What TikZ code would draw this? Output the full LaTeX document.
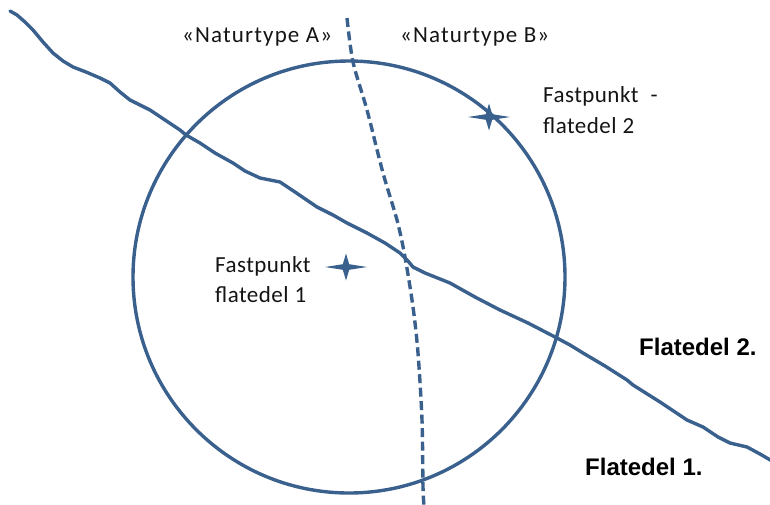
\documentclass[tikz,border=0pt]{standalone}
\usepackage{fontspec}
\setmainfont{Carlito}
\newfontfamily\labfont[LetterSpace=2]{Carlito}
\newfontfamily\natfont[LetterSpace=5]{Carlito}
\newfontfamily\boldlab{Liberation Sans}
\definecolor{lineblue}{RGB}{58,96,142}
\begin{document}
\begin{tikzpicture}[x=1pt,y=-1pt,
  wline/.style={draw=lineblue,line width=3.4pt,line join=round,line cap=round},
  lab/.style={anchor=base west,inner sep=0pt,font=\labfont\fontsize{23}{23}\selectfont,text=black!92},
  nlab/.style={anchor=base west,inner sep=0pt,font=\natfont\fontsize{23}{23}\selectfont,text=black!92},
  blab/.style={anchor=base west,inner sep=0pt,font=\boldlab\bfseries\fontsize{24}{24}\selectfont,text=black},
  starpic/.pic={\fill[lineblue] (21,0) -- (3.2,2.8) -- (0,13.5) -- (-3.2,2.8) -- (-21,0) -- (-3.2,-2.8) -- (0,-13.5) -- (3.2,-2.8) -- cycle;}]
\useasboundingbox (0,0) rectangle (770,504);
% circle
\draw[wline] (349,277) circle[radius=216];
% boundary between flatedel 1 and 2
\draw[wline] plot coordinates {(10,11) (17,15) (25,22) (33,30) (43,42) (53,53) (63,61) (73,67) (86,72) (100,78) (110,83) (120,92) (130,100) (140,105) (150,110) (165,120) (180,130) (186,135) (200,143) (215,153) (233,163) (245,171) (260,178) (270,180) (280,182) (295,192) (317,207) (333,215) (347,223) (357,228) (367,233) (385,243) (400,253) (408,261) (413,267) (425,273) (450,283) (475,297) (500,310) (528,323) (555,337) (570,345) (583,353) (605,366) (627,380) (633,385) (660,402) (687,420) (703,427) (718,437) (730,443) (747,447) (760,454) (772,461)};
% naturtype boundary (dashed)
\draw[wline,line cap=butt,dash pattern=on 9pt off 4.5pt] plot[smooth,tension=0.5] coordinates {(347,18) (353,62) (367,110) (383,173) (397,220) (405,257) (413,307) (418,353) (422,420) (423,487) (424,506)};
% fixed points
\pic at (489,117) {starpic};
\pic at (346,267) {starpic};
% labels
\node[nlab] (natA) at (182,42) {«Naturtype A»};
\node[nlab] (natB) at (400,42) {«Naturtype B»};
\node[lab] (fp2a) at (543,102) {Fastpunkt\hspace{12pt}-};
\node[lab] (fp2b) at (543,133) {flatedel\hspace{6pt}2};
\node[lab] (fp1a) at (215,272) {Fastpunkt};
\node[lab] (fp1b) at (215,302) {flatedel\hspace{6pt}1};
\node[blab] (fd2) at (639,355) {Flatedel 2.};
\node[blab] (fd1) at (585,475) {Flatedel 1.};
\end{tikzpicture}
\end{document}
